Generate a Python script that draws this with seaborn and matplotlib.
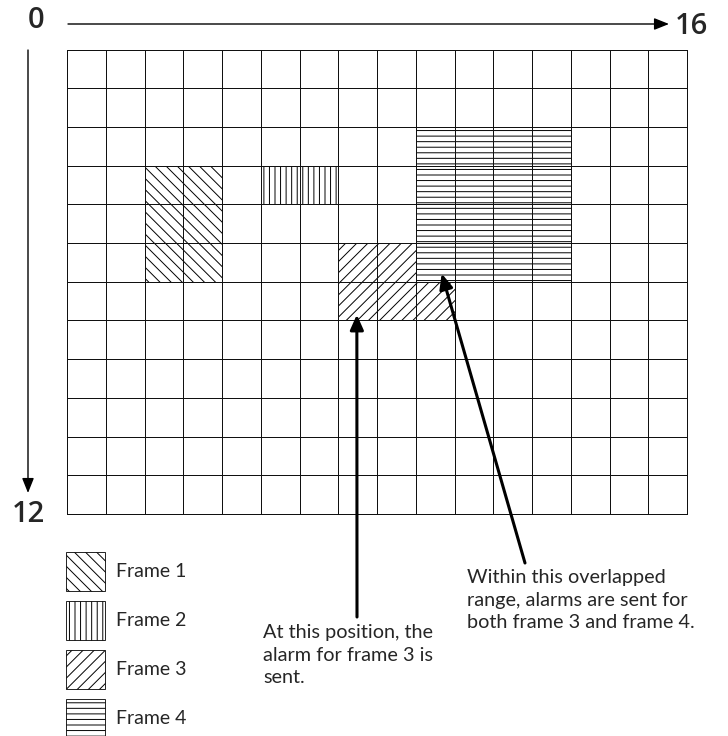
import numpy as np
import matplotlib
matplotlib.use("Agg")
import matplotlib.pyplot as plt
import seaborn as sns
from matplotlib.colors import ListedColormap

# grid size (columns x rows)
N_COLS = 16
N_ROWS = 12

# frames: top-left cell, size in cells, hatch
frame_labels = ['Frame 1', 'Frame 2', 'Frame 3', 'Frame 4']
frame_col = [2, 5, 7, 9]
frame_row = [3, 3, 5, 2]
frame_ncols = [2, 2, 3, 4]
frame_nrows = [3, 1, 2, 4]
frame_hatch = ['\\\\\\', '|||', '///', '---']

# annotation targets (col, row) inside the grid
note_pos = [(7.48, 6.85), (9.67, 5.79)]
note_text = ["At this position, the\nalarm for frame 3 is\nsent.",
             "Within this overlapped\nrange, alarms are sent for\nboth frame 3 and frame 4."]

sns.set_style("white")
plt.rcParams['font.family'] = ['Lato', 'DejaVu Sans']
plt.rcParams['hatch.linewidth'] = 0.7

W, H = 728, 736
fig = plt.figure(figsize=(W / 100, H / 100), dpi=100)
ax = fig.add_axes([67 / W, 1 - 514 / H, 620 / W, 464.5 / H])

# transparent heatmap just for the grid lines
grid = np.zeros((N_ROWS, N_COLS))
sns.heatmap(grid, ax=ax, cmap=ListedColormap([(1, 1, 1, 0)]), cbar=False,
            linewidths=0.55, linecolor='#111111', xticklabels=False, yticklabels=False)
mesh = ax.collections[0]
mesh.set_zorder(3)
mesh.set_clip_on(False)

for i in range(len(frame_labels)):
    ax.bar(frame_col[i], frame_nrows[i], width=frame_ncols[i], bottom=frame_row[i],
           align='edge', color='white', edgecolor='black', linewidth=0.6,
           hatch=frame_hatch[i], label=frame_labels[i], zorder=1 + i * 0.1)

# axis arrows and end labels
def fpx(x, y):
    return (x, H - y)

lab_kw = dict(fontsize=21, fontfamily=['Open Sans', 'DejaVu Sans'],
              fontweight='semibold', ha='center', va='center')
arr_thin = dict(arrowstyle='-|>,head_length=0.45,head_width=0.18', color='black',
                lw=1.0, shrinkA=0, shrinkB=0, mutation_scale=20)
fig.text(36 / W, 1 - 21 / H, '0', **lab_kw)
fig.text(691 / W, 1 - 26 / H, '16', **lab_kw)
fig.text(28 / W, 1 - 514 / H, '12', **lab_kw)
ax.annotate('', xy=fpx(669, 24), xytext=fpx(68, 24), xycoords='figure pixels',
            textcoords='figure pixels', arrowprops=arr_thin, annotation_clip=False)
ax.annotate('', xy=fpx(28, 493), xytext=fpx(28, 50), xycoords='figure pixels',
            textcoords='figure pixels', arrowprops=arr_thin, annotation_clip=False)

# callouts
arr_thick = dict(arrowstyle='-|>,head_length=0.45,head_width=0.2', color='black',
                 lw=2.2, shrinkA=0, shrinkB=0, mutation_scale=20)
tails = [(357, 617), (525, 563)]
for (cx, cy), (tx, ty) in zip(note_pos, tails):
    ax.annotate('', xy=(cx, cy), xycoords='data', xytext=fpx(tx, ty),
                textcoords='figure pixels', arrowprops=arr_thick, annotation_clip=False)

fig.text(263 / W, 1 - 624 / H, note_text[0], fontsize=14.3, ha='left', va='top',
         linespacing=1.4)
fig.text(467 / W, 1 - 569 / H, note_text[1], fontsize=14.3, ha='left', va='top',
         linespacing=1.4)

fig.legend(loc='upper left', bbox_to_anchor=(66 / W, 1 - 552 / H), frameon=False,
           fontsize=14, handlelength=2.0, handleheight=2.72, labelspacing=0.5,
           handletextpad=0.55, borderpad=0, borderaxespad=0)

fig.savefig('out.png', dpi=100, facecolor='white')
